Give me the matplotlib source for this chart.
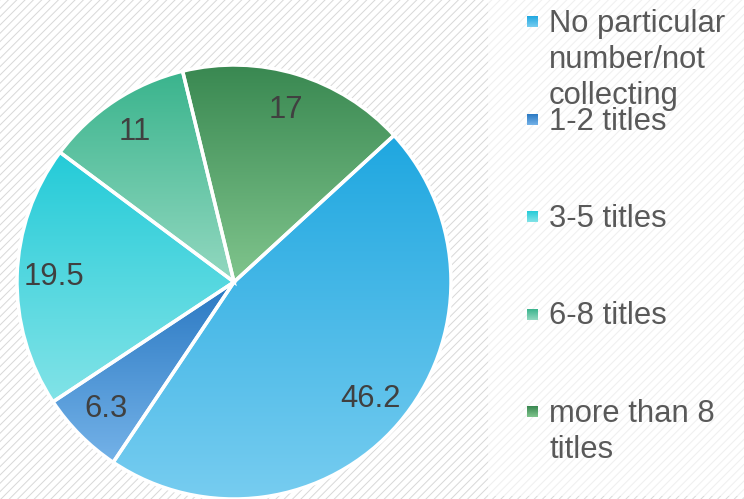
"""
Pie chart of how many titles people collect, with Excel-style gradient slices.
"""

import numpy as np
import matplotlib.pyplot as plt
from matplotlib.colors import LinearSegmentedColormap
from matplotlib.patches import Rectangle

categories = [
    "No particular\nnumber/not\ncollecting",
    "1-2 titles",
    "3-5 titles",
    "6-8 titles",
    "more than 8\ntitles",
]
values = [46.2, 6.3, 19.5, 11, 17]

# (top colour, bottom colour) for each slice gradient
colours = [
    ("#1fa7e0", "#78cdf0"),
    ("#2a78c2", "#74b2e8"),
    ("#24cbd8", "#82e3e7"),
    ("#3ab48d", "#93d8c0"),
    ("#388750", "#80c58d"),
]

W, H = 744, 499
plt.rcParams["font.family"] = ["Liberation Sans", "DejaVu Sans"]
plt.rcParams["hatch.linewidth"] = 0.7

fig = plt.figure(figsize=(W / 100, H / 100), dpi=100)
ax = fig.add_axes([0, 0, 1, 1])
ax.set_facecolor("none")

# striped background, fainter behind the legend
ax.add_patch(
    Rectangle((0, 0), W, H, facecolor="white", edgecolor="#d8d8d8",
              hatch="////", linewidth=0, zorder=0)
)
ax.add_patch(
    Rectangle((488, 3), W - 488, H - 3, facecolor="white", alpha=0.6,
              linewidth=0, zorder=0.5)
)


def gradient_fill(patch, top, bottom):
    verts = patch.get_path().vertices
    verts = patch.get_patch_transform().transform(verts)
    x0, y0 = verts.min(axis=0)
    x1, y1 = verts.max(axis=0)
    cmap = LinearSegmentedColormap.from_list("g", [bottom, top])
    grad = np.linspace(0, 1, 256).reshape(-1, 1)
    im = ax.imshow(grad, cmap=cmap, extent=(x0, x1, y0, y1), origin="lower",
                   aspect="auto", interpolation="bilinear", zorder=1)
    im.set_clip_path(patch)


cx, cy, r = 234, H - 282, 217
wedges, _ = ax.pie(
    values,
    center=(cx, cy),
    radius=r,
    startangle=42.5,
    counterclock=False,
    wedgeprops=dict(edgecolor="white", linewidth=2.5, facecolor="none",
                    zorder=2),
)

for w, (top, bottom), v in zip(wedges, colours, values):
    gradient_fill(w, top, bottom)
    mid = np.deg2rad((w.theta1 + w.theta2) / 2)
    ax.text(cx + 0.83 * r * np.cos(mid), cy + 0.83 * r * np.sin(mid),
            f"{v:g}", ha="center", va="center", fontsize=22.3,
            color="#404040", zorder=3)

# hand-placed legend, like the original
for i, (label, (top, bottom)) in enumerate(zip(categories, colours)):
    base = H - (32 + i * 97.5)
    sq = Rectangle((527, base + 5), 11, 11, facecolor="none",
                   edgecolor="none", zorder=2)
    ax.add_patch(sq)
    gradient_fill(sq, top, bottom)
    for k, line in enumerate(label.split("\n")):
        ax.text(549, base - 36 * k, line, ha="left", va="baseline",
                fontsize=22.3, color="#595959", zorder=3)

ax.set_xlim(0, W)
ax.set_ylim(0, H)
ax.set_axis_off()

fig.savefig("out.png", dpi=100)
